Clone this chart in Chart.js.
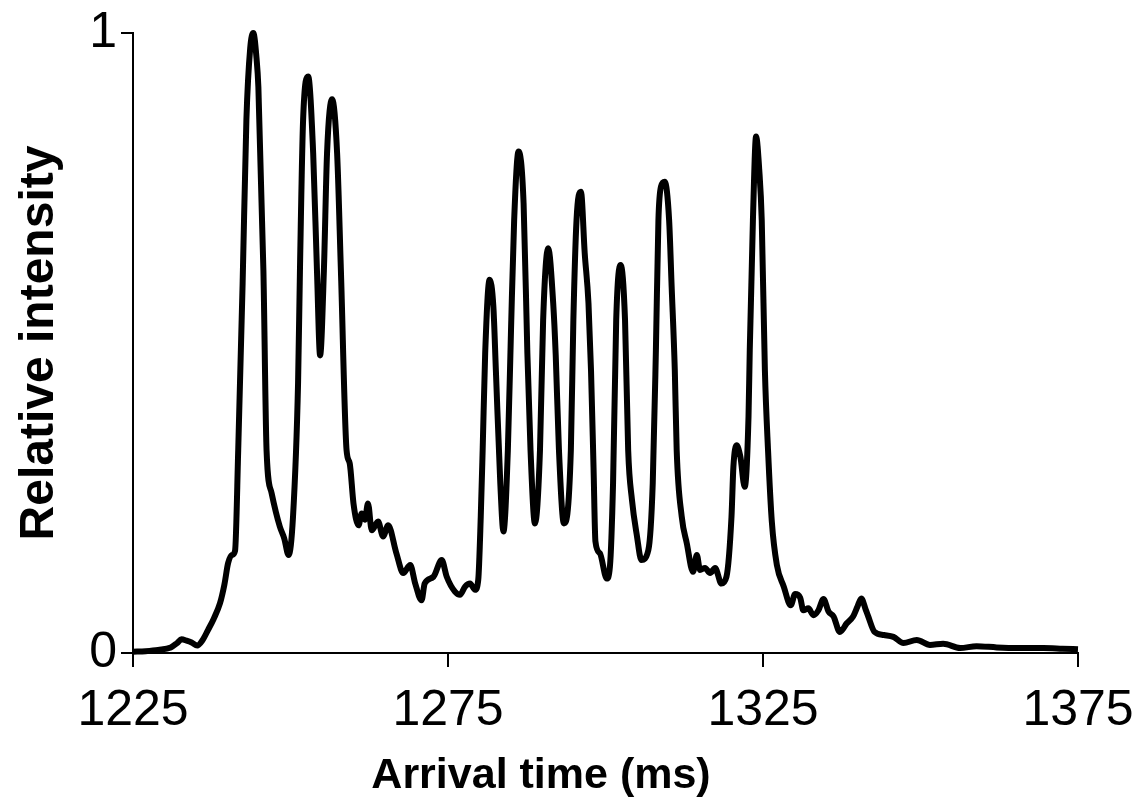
<!DOCTYPE html>
<html>
<head>
<meta charset="utf-8">
<script src="https://cdn.jsdelivr.net/npm/chart.js@4.4.1/dist/chart.umd.min.js"></script>
<style>
  html, body { margin: 0; padding: 0; background: #fff; }
  #wrap { width: 1138px; height: 803px; }
</style>
</head>
<body>
<div id="wrap"><canvas id="chart"></canvas></div>
<script>
// arrival time (ms) and relative intensity
const times = [
  1225.0, 1227.0, 1229.0, 1231.0, 1232.0, 1232.7, 1233.5, 1234.3, 1235.2, 1236.0,
  1236.9, 1237.8, 1238.8, 1239.5, 1240.1, 1240.7, 1241.2, 1241.7, 1242.4, 1243.0,
  1243.6, 1244.1, 1244.6, 1244.9, 1245.7, 1246.2, 1247.0, 1248.3, 1249.0, 1249.7,
  1250.4, 1251.2, 1251.5, 1252.0, 1252.8, 1253.6, 1254.2, 1254.7, 1255.3, 1255.8,
  1256.6, 1257.4, 1258.0, 1258.9, 1259.4, 1260.0, 1260.8, 1261.3, 1261.8, 1262.3,
  1262.9, 1263.9, 1264.7, 1265.5, 1266.8, 1267.9, 1269.0, 1269.8, 1270.8, 1271.3,
  1272.7, 1274.0, 1274.8, 1276.1, 1276.9, 1277.7, 1278.5, 1279.3, 1279.8, 1280.2,
  1280.5, 1280.9, 1281.6, 1282.2, 1282.6, 1283.3, 1283.8, 1284.5, 1285.0, 1285.5,
  1286.2, 1287.0, 1287.6, 1288.1, 1288.8, 1289.6, 1290.1, 1290.9, 1291.7, 1292.1,
  1292.6, 1293.4, 1294.5, 1294.9, 1295.4, 1296.1, 1296.7, 1297.3, 1297.7, 1298.1,
  1298.4, 1299.1, 1300.2, 1300.7, 1301.2, 1301.7, 1302.4, 1303.1, 1303.6, 1304.2,
  1305.0, 1305.7, 1306.8, 1307.5, 1308.0, 1308.4, 1308.8, 1309.4, 1310.1, 1310.5,
  1311.0, 1311.3, 1312.1, 1312.9, 1313.9, 1314.5, 1315.0, 1315.8, 1316.6, 1317.4,
  1318.4, 1319.2, 1320.0, 1320.3, 1320.8, 1321.4, 1322.1, 1322.7, 1322.9, 1323.4,
  1323.9, 1324.4, 1324.8, 1325.3, 1325.8, 1326.4, 1327.2, 1328.3, 1329.4, 1330.1,
  1330.9, 1331.4, 1332.2, 1333.0, 1333.8, 1334.6, 1335.4, 1336.2, 1337.2, 1338.3,
  1339.3, 1340.0, 1340.6, 1341.3, 1341.7, 1342.7, 1344.2, 1345.7, 1347.3, 1349.4,
  1351.5, 1353.6, 1356.3, 1358.9, 1362.1, 1365.3, 1369.5, 1372.5, 1375.0
];
const intensity = [
  0.002, 0.003, 0.005, 0.009, 0.016, 0.022, 0.020, 0.017, 0.012, 0.020,
  0.037, 0.055, 0.080, 0.110, 0.145, 0.158, 0.165, 0.327, 0.596, 0.860,
  0.975, 1.000, 0.960, 0.913, 0.617, 0.327, 0.258, 0.204, 0.185, 0.158,
  0.220, 0.435, 0.617, 0.860, 0.930, 0.806, 0.617, 0.480, 0.617, 0.806,
  0.893, 0.806, 0.617, 0.327, 0.306, 0.241, 0.206, 0.225, 0.215, 0.241,
  0.198, 0.212, 0.188, 0.206, 0.161, 0.129, 0.142, 0.112, 0.085, 0.112,
  0.123, 0.150, 0.123, 0.099, 0.094, 0.107, 0.112, 0.102, 0.118, 0.220,
  0.327, 0.483, 0.602, 0.559, 0.456, 0.274, 0.196, 0.327, 0.520, 0.698,
  0.809, 0.725, 0.483, 0.327, 0.209, 0.327, 0.537, 0.653, 0.564, 0.480,
  0.330, 0.209, 0.327, 0.537, 0.698, 0.744, 0.645, 0.564, 0.456, 0.300,
  0.180, 0.161, 0.120, 0.139, 0.274, 0.537, 0.626, 0.537, 0.327, 0.247,
  0.188, 0.150, 0.166, 0.274, 0.489, 0.698, 0.752, 0.760, 0.698, 0.591,
  0.456, 0.327, 0.220, 0.177, 0.131, 0.158, 0.134, 0.137, 0.129, 0.137,
  0.112, 0.123, 0.220, 0.300, 0.335, 0.317, 0.268, 0.381, 0.489, 0.698,
  0.833, 0.780, 0.698, 0.456, 0.327, 0.212, 0.142, 0.107, 0.077, 0.095,
  0.089, 0.069, 0.072, 0.061, 0.069, 0.087, 0.067, 0.059, 0.034, 0.048,
  0.059, 0.075, 0.088, 0.070, 0.059, 0.034, 0.029, 0.026, 0.016, 0.021,
  0.013, 0.015, 0.008, 0.011, 0.009, 0.008, 0.008, 0.007, 0.006
];
const xTicks = [1225, 1275, 1325, 1375];
const yTicks = [0, 1];
const xTitle = "Arrival time (ms)";
const yTitle = "Relative intensity";

const FONT = "'Liberation Sans', Arial, Helvetica, sans-serif";

// x title sits a bit left of the plot centre in the original, so draw it by hand
const xTitlePlugin = {
  id: "xTitle",
  afterDraw(chart) {
    const ctx = chart.ctx;
    ctx.save();
    ctx.font = "bold 43px " + FONT;
    ctx.fillStyle = "#000";
    ctx.textAlign = "center";
    ctx.textBaseline = "alphabetic";
    ctx.fillText(xTitle, 541, 788);
    ctx.restore();
  },
};

new Chart(document.getElementById("chart"), {
  type: "line",
  data: {
    datasets: [
      {
        data: times.map((t, i) => ({ x: t, y: intensity[i] })),
        borderColor: "#000",
        borderWidth: 6,
        pointRadius: 0,
        cubicInterpolationMode: "monotone",
        clip: false,
      },
    ],
  },
  options: {
    responsive: true,
    maintainAspectRatio: false,
    animation: false,
    layout: { padding: { top: 33, right: 60, left: 0, bottom: 0 } },
    plugins: { legend: { display: false }, tooltip: { enabled: false } },
    scales: {
      x: {
        type: "linear",
        min: 1225,
        max: 1375,
        afterBuildTicks: (s) => { s.ticks = xTicks.map((v) => ({ value: v })); },
        afterFit: (s) => { s.height = 150; s.paddingLeft = 0; s.paddingRight = 0; },
        ticks: {
          color: "#000",
          padding: 14,
          maxRotation: 0,
          font: { family: FONT, size: 50 },
          callback: (v) => String(v),
        },
        grid: { drawOnChartArea: false, drawTicks: true, tickLength: 14, color: "#000", lineWidth: 2 },
        border: { display: true, color: "#000", width: 2 },
        title: { display: false },
      },
      y: {
        min: 0,
        max: 1,
        afterBuildTicks: (s) => { s.ticks = yTicks.map((v) => ({ value: v })); },
        afterFit: (s) => { s.width = 133; s.paddingTop = 0; s.paddingBottom = 0; },
        ticks: {
          color: "#000",
          padding: 4,
          font: { family: FONT, size: 50 },
          callback: (v) => String(v),
        },
        grid: { drawOnChartArea: false, drawTicks: true, tickLength: 12, color: "#000", lineWidth: 2 },
        border: { display: true, color: "#000", width: 2 },
        title: {
          display: true,
          text: yTitle,
          color: "#000",
          font: { family: FONT, size: 48, weight: "bold" },
          padding: { top: 11, bottom: 0 },
        },
      },
    },
  },
  plugins: [xTitlePlugin],
});
</script>
</body>
</html>
